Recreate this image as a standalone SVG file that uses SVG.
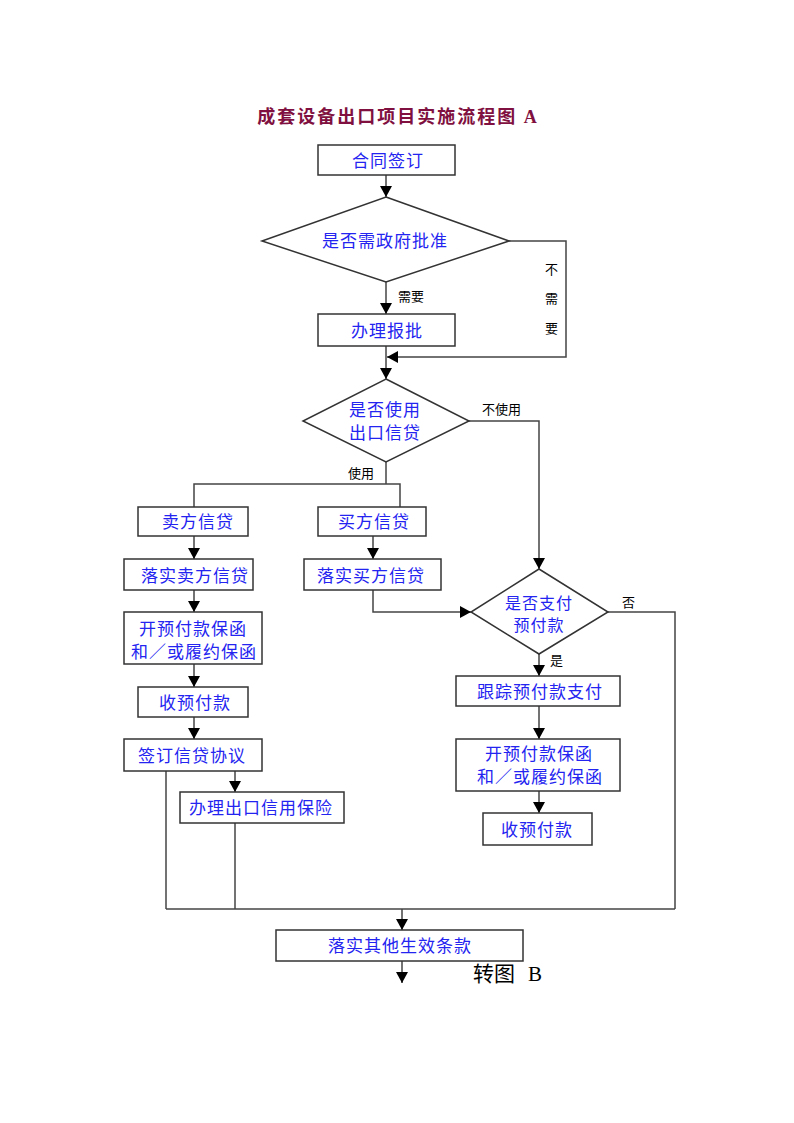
<svg xmlns="http://www.w3.org/2000/svg" width="794" height="1123" viewBox="0 0 794 1123">
<defs>
<marker id="ah" markerUnits="userSpaceOnUse" markerWidth="12" markerHeight="12" viewBox="0 0 12 12" refX="11" refY="6" orient="auto">
<path d="M0,0 L11,6 L0,12 Z" fill="#000"/>
</marker>
</defs>
<style>
.box{fill:#fff;stroke:#333;stroke-width:1.5}
.ln{fill:none;stroke:#444;stroke-width:1.5}
.t{font-family:"Noto Sans CJK SC","Liberation Sans",sans-serif;font-size:17px;letter-spacing:1px;fill:#2424f0;text-anchor:middle;dominant-baseline:central}
.s{font-size:16px}
.l{font-family:"Noto Sans CJK SC","Liberation Sans",sans-serif;font-size:13px;fill:#000;dominant-baseline:central}
.title{font-family:"Liberation Serif","Noto Sans CJK SC",serif;font-size:18px;font-weight:bold;letter-spacing:2px;fill:#7f1040;text-anchor:middle;dominant-baseline:central}
.goto{font-family:"Liberation Serif","Noto Sans CJK SC",serif;font-size:21px;fill:#000;dominant-baseline:central}
</style>
<rect width="794" height="1123" fill="#fff"/>
<text class="title" x="398" y="117">成套设备出口项目实施流程图 A</text>

<g id="connectors">
<path class="ln" d="M386,175 V197" marker-end="url(#ah)"/>
<path class="ln" d="M386,282 V314" marker-end="url(#ah)"/>
<path class="ln" d="M509,241 H566 V357 H387" marker-end="url(#ah)"/>
<path class="ln" d="M386,346 V379" marker-end="url(#ah)"/>
<path class="ln" d="M469,421 H539 V569" marker-end="url(#ah)"/>
<path class="ln" d="M386,462 V484"/>
<path class="ln" d="M194,507 V484 H400 V507"/>
<path class="ln" d="M194,536 V559" marker-end="url(#ah)"/>
<path class="ln" d="M373,536 V559" marker-end="url(#ah)"/>
<path class="ln" d="M373,590 V612 H471" marker-end="url(#ah)"/>
<path class="ln" d="M194,590 V612" marker-end="url(#ah)"/>
<path class="ln" d="M194,664 V687" marker-end="url(#ah)"/>
<path class="ln" d="M194,717 V739" marker-end="url(#ah)"/>
<path class="ln" d="M235,771 V792" marker-end="url(#ah)"/>
<path class="ln" d="M166,771 V909"/>
<path class="ln" d="M235,823 V909"/>
<path class="ln" d="M608,612 H675 V909"/>
<path class="ln" d="M166,909 H675"/>
<path class="ln" d="M402,909 V930" marker-end="url(#ah)"/>
<path class="ln" d="M539,654 V676" marker-end="url(#ah)"/>
<path class="ln" d="M539,706 V739" marker-end="url(#ah)"/>
<path class="ln" d="M539,791 V813" marker-end="url(#ah)"/>
<path class="ln" d="M402,961 V983" marker-end="url(#ah)"/>
<text class="l" x="398" y="295">需要</text>
<text class="l" x="545" y="268">不</text>
<text class="l" x="545" y="297">需</text>
<text class="l" x="545" y="327">要</text>
<text class="l" x="482" y="408">不使用</text>
<text class="l" x="348" y="472">使用</text>
<text class="l" x="622" y="601">否</text>
<text class="l" x="550" y="659">是</text>
</g>

<g id="n1"><rect class="box" x="318" y="145" width="137" height="30"/><text class="t" x="388" y="159">合同签订</text></g>
<g id="n2"><polygon class="box" points="386,197 509,241 386,282 262,241"/><text class="t" x="385" y="239">是否需政府批准</text></g>
<g id="n3"><rect class="box" x="318" y="314" width="137" height="32"/><text class="t" x="387" y="329">办理报批</text></g>
<g id="n4"><polygon class="box" points="386,379 469,421 386,462 303,421"/><text class="t" x="385" y="408">是否使用</text><text class="t" x="385" y="431">出口信贷</text></g>
<g id="n5"><rect class="box" x="138" y="507" width="110" height="29"/><text class="t" x="198" y="520">卖方信贷</text></g>
<g id="n6"><rect class="box" x="318" y="507" width="108" height="29"/><text class="t" x="374" y="520">买方信贷</text></g>
<g id="n7"><rect class="box" x="124" y="559" width="129" height="31"/><text class="t" x="195" y="574">落实卖方信贷</text></g>
<g id="n8"><rect class="box" x="304" y="559" width="137" height="31"/><text class="t" x="371" y="574">落实买方信贷</text></g>
<g id="n9"><polygon class="box" points="539,569 608,612 539,654 471,612"/><text class="t s" x="539" y="602">是否支付</text><text class="t s" x="539" y="624">预付款</text></g>
<g id="n10"><rect class="box" x="124" y="612" width="138" height="52"/><text class="t" x="193" y="627">开预付款保函</text><text class="t" x="194" y="650">和／或履约保函</text></g>
<g id="n11"><rect class="box" x="138" y="687" width="110" height="30"/><text class="t" x="195" y="701">收预付款</text></g>
<g id="n12"><rect class="box" x="124" y="739" width="138" height="32"/><text class="t" x="192" y="754">签订信贷协议</text></g>
<g id="n13"><rect class="box" x="180" y="792" width="164" height="31"/><text class="t" x="261" y="806">办理出口信用保险</text></g>
<g id="n14"><rect class="box" x="456" y="676" width="164" height="30"/><text class="t" x="540" y="690">跟踪预付款支付</text></g>
<g id="n15"><rect class="box" x="456" y="739" width="164" height="52"/><text class="t" x="539" y="752">开预付款保函</text><text class="t" x="540" y="775">和／或履约保函</text></g>
<g id="n16"><rect class="box" x="483" y="813" width="109" height="32"/><text class="t" x="537" y="828">收预付款</text></g>
<g id="n17"><rect class="box" x="276" y="930" width="247" height="31"/><text class="t" x="400" y="944">落实其他生效条款</text></g>
<text class="goto" x="473" y="974">转图</text>
<text class="goto" x="528" y="974">B</text>
</svg>
